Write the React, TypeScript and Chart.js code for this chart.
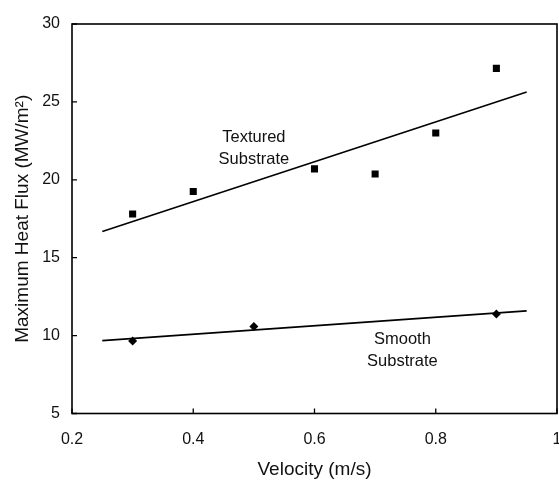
import React, { useEffect, useRef } from "react";
import { Chart, registerables } from "chart.js";

Chart.register(...registerables);

const texturedVelocity = [0.3, 0.4, 0.6, 0.7, 0.8, 0.9];
const texturedFlux = [17.8, 19.25, 20.7, 20.37, 23.0, 27.15];
const smoothVelocity = [0.3, 0.5, 0.9];
const smoothFlux = [9.66, 10.58, 11.38];
const texturedFitVelocity = [0.25, 0.95];
const texturedFitFlux = [16.68, 25.63];
const smoothFitVelocity = [0.25, 0.95];
const smoothFitFlux = [9.68, 11.59];
const xTickValues = [0.2, 0.4, 0.6, 0.8, 1];
const xTickLabels = ["0.2", "0.4", "0.6", "0.8", "1"];
const yTickValues = [5, 10, 15, 20, 25, 30];
const yTickLabels = ["5", "10", "15", "20", "25", "30"];
const annotationX = [0.5, 0.745];
const annotationY = [22.0, 9.05];
const annotationLines = [
  ["Textured", "Substrate"],
  ["Smooth", "Substrate"],
];

const FONT = "'Liberation Sans', Arial, sans-serif";

const framePlugin = {
  id: "frameAndAnnotations",
  afterDraw(chart: any) {
    const { ctx, chartArea, scales } = chart;
    const { left, right, top, bottom } = chartArea;
    ctx.save();
    ctx.strokeStyle = "#000";
    ctx.lineWidth = 1.6;
    ctx.strokeRect(left, top, right - left, bottom - top);
    ctx.lineWidth = 1.3;
    ctx.beginPath();
    xTickValues.forEach((v) => {
      const x = scales.x.getPixelForValue(v);
      ctx.moveTo(x, bottom);
      ctx.lineTo(x, bottom - 5);
    });
    yTickValues.forEach((v) => {
      const y = scales.y.getPixelForValue(v);
      ctx.moveTo(left, y);
      ctx.lineTo(left + 5, y);
    });
    ctx.stroke();
    ctx.fillStyle = "#111";
    ctx.font = `16.5px ${FONT}`;
    ctx.textAlign = "center";
    ctx.textBaseline = "middle";
    annotationLines.forEach((lines, i) => {
      const cx = scales.x.getPixelForValue(annotationX[i]);
      const cy = scales.y.getPixelForValue(annotationY[i]);
      lines.forEach((t, j) => {
        ctx.fillText(t, cx, cy + (j - (lines.length - 1) / 2) * 22);
      });
    });
    ctx.restore();
  },
};

export default function App() {
  const ref = useRef<HTMLCanvasElement | null>(null);

  useEffect(() => {
    if (!ref.current) return;
    const chart = new Chart(ref.current, {
      type: "scatter",
      data: {
        datasets: [
          {
            label: "Textured Substrate",
            data: texturedVelocity.map((x, i) => ({ x, y: texturedFlux[i] })),
            pointStyle: "rect",
            pointRadius: 5,
            backgroundColor: "#000",
            borderColor: "#000",
            borderWidth: 0,
          },
          {
            label: "Smooth Substrate",
            data: smoothVelocity.map((x, i) => ({ x, y: smoothFlux[i] })),
            pointStyle: "rectRot",
            pointRadius: 4.5,
            backgroundColor: "#000",
            borderColor: "#000",
            borderWidth: 0,
          },
          {
            label: "Textured fit",
            type: "line" as any,
            data: texturedFitVelocity.map((x, i) => ({ x, y: texturedFitFlux[i] })),
            showLine: true,
            borderColor: "#000",
            borderWidth: 1.6,
            pointRadius: 0,
          },
          {
            label: "Smooth fit",
            type: "line" as any,
            data: smoothFitVelocity.map((x, i) => ({ x, y: smoothFitFlux[i] })),
            showLine: true,
            borderColor: "#000",
            borderWidth: 1.6,
            pointRadius: 0,
          },
        ],
      },
      options: {
        animation: false,
        responsive: false,
        maintainAspectRatio: false,
        layout: { padding: { top: 24, right: 2, left: 0, bottom: 0 } },
        plugins: {
          legend: { display: false },
          tooltip: { enabled: false },
        },
        scales: {
          x: {
            type: "linear",
            min: 0.2,
            max: 1,
            afterBuildTicks: (s: any) => {
              s.ticks = xTickValues.map((v) => ({ value: v }));
            },
            afterFit: (s: any) => {
              s.height = 67.5;
              s.paddingLeft = 0;
              s.paddingRight = 0;
            },
            grid: { display: false, drawTicks: false },
            border: { display: false },
            ticks: {
              padding: 16,
              color: "#111",
              font: { family: FONT, size: 16 },
              maxRotation: 0,
              callback: (_v: any, i: number) => xTickLabels[i],
            },
            title: {
              display: true,
              text: "Velocity (m/s)",
              color: "#111",
              font: { family: FONT, size: 19 },
              padding: { top: 0, bottom: 0 },
            },
          },
          y: {
            type: "linear",
            min: 5,
            max: 30,
            afterBuildTicks: (s: any) => {
              s.ticks = yTickValues.map((v) => ({ value: v }));
            },
            afterFit: (s: any) => {
              s.width = 72;
              s.paddingTop = 0;
              s.paddingBottom = 0;
            },
            grid: { display: false, drawTicks: false },
            border: { display: false },
            ticks: {
              padding: 12,
              color: "#111",
              font: { family: FONT, size: 16 },
              callback: (_v: any, i: number) => yTickLabels[i],
            },
            title: {
              display: true,
              text: "Maximum Heat Flux (MW/m²)",
              color: "#111",
              font: { family: FONT, size: 19 },
              padding: { top: 11, bottom: 0 },
            },
          },
        },
      },
      plugins: [
        framePlugin,
        {
          id: "forceArea",
          afterLayout(chart: any) {
            const a = chart.chartArea;
            a.right = 557;
            a.width = a.right - a.left;
            const xs = chart.scales.x;
            xs.right = 557;
            xs.width = xs.right - xs.left;
            xs.configure();
          },
        },
      ],
    });
    return () => chart.destroy();
  }, []);

  return (
    <div style={{ position: "fixed", left: 0, top: 0, width: 559, height: 481, background: "#fff" }}>
      <canvas ref={ref} width={559} height={481} style={{ display: "block" }} />
    </div>
  );
}
